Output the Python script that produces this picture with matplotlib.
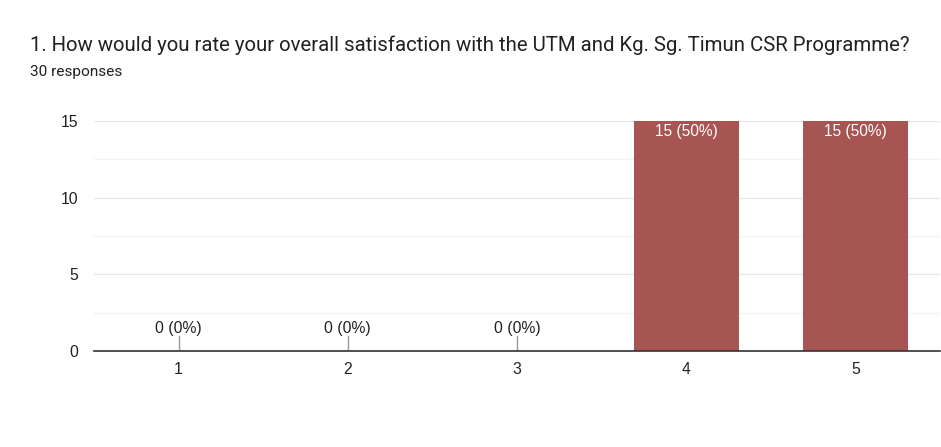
import matplotlib.pyplot as plt
from matplotlib.ticker import MultipleLocator

plt.rcParams['font.family'] = ['Liberation Sans', 'DejaVu Sans']

# data
categories = ['1', '2', '3', '4', '5']
counts = [0, 0, 0, 15, 15]
total = 30

BAR_COLOR = '#a75553'

fig = plt.figure(figsize=(9.41, 4.47), dpi=100)
ax = fig.add_axes([94 / 941, 1 - 351 / 447, (940 - 94) / 941, (351 - 121) / 447])

x = list(range(1, len(categories) + 1))
ax.bar(x, counts, width=0.62, color=BAR_COLOR, zorder=3)

ax.set_xlim(0.5, 5.5)
ax.set_ylim(0, 15)
ax.yaxis.set_major_locator(MultipleLocator(5))
ax.yaxis.set_minor_locator(MultipleLocator(2.5))
ax.set_xticks(x)
ax.set_xticklabels(categories)

ax.grid(axis='y', which='major', color='#e8e8e8', linewidth=1, zorder=0)
ax.grid(axis='y', which='minor', color='#f3f3f3', linewidth=1, zorder=0)
for s in ['top', 'right', 'left']:
    ax.spines[s].set_visible(False)
ax.spines['bottom'].set_color('#333333')
ax.spines['bottom'].set_linewidth(1.2)
ax.spines['bottom'].set_zorder(4)
ax.tick_params(axis='both', which='both', length=0, labelsize=11.3, colors='#222222')
ax.tick_params(axis='x', pad=8)
ax.tick_params(axis='y', pad=11.5)

# value labels
for xi, c in zip(x, counts):
    pct = round(c / total * 100)
    label = f'{c} ({pct}%)'
    if c == 0:
        ax.plot([xi, xi], [0, 0.95], color='#999999', linewidth=1, zorder=4)
        ax.text(xi, 1.0, label, ha='center', va='bottom', fontsize=11.3, color='#222222')
    else:
        ax.text(xi, c - 0.22, label, ha='center', va='top', fontsize=11.2, color='white', zorder=5)

fig.text(30 / 941, 1 - 45 / 447, '1. How would you rate your overall satisfaction with the UTM and Kg. Sg. Timun CSR Programme?',
         fontsize=14.7, color='#202124', va='center', ha='left', family=['Roboto', 'DejaVu Sans'])
fig.text(30 / 941, 1 - 72 / 447, '30 responses', fontsize=11.1, color='#202124', va='center', ha='left',
         family=['Roboto', 'DejaVu Sans'])

fig.savefig('out.png', dpi=100)
